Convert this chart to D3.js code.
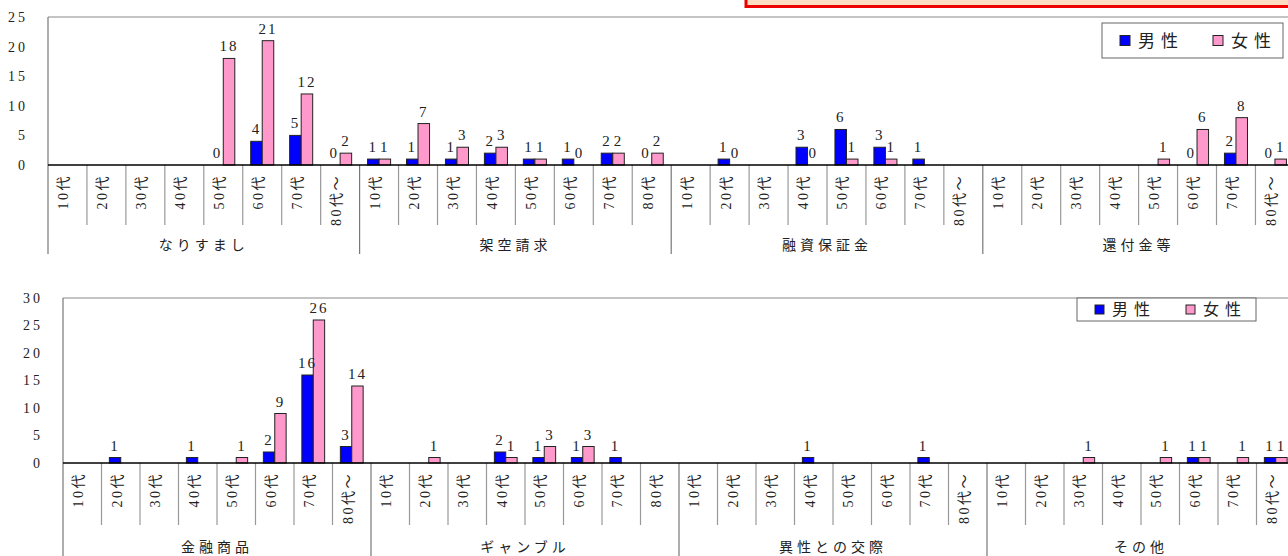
<!DOCTYPE html>
<html><head><meta charset="utf-8">
<script src="https://cdn.jsdelivr.net/npm/d3@7"></script>
<style>
html,body{margin:0;padding:0;background:#fff;}
svg{display:block;}
text{font-family:"Liberation Serif","Noto Sans CJK JP",serif;fill:#222;}
</style></head>
<body>
<svg id="c" width="1288" height="556"></svg>
<script>
// ---------- data ----------
const seriesNames = ["男性", "女性"];
const ageLabelsA = ["10代","20代","30代","40代","50代","60代","70代","80代～"];
const ageLabelsB = ["10代","20代","30代","40代","50代","60代","70代","80代"];

const topGroups = ["なりすまし", "架空請求", "融資保証金", "還付金等"];
const topAgeLabels = [ageLabelsA, ageLabelsB, ageLabelsA, ageLabelsA];
const topMale = [
  null,null,null,null,0,4,5,0,
  1,1,1,2,1,1,2,0,
  null,1,null,3,6,3,1,null,
  null,null,null,null,null,0,2,0
];
const topFemale = [
  null,null,null,null,18,21,12,2,
  1,7,3,3,1,0,2,2,
  null,0,null,0,1,1,null,null,
  null,null,null,null,1,6,8,1
];
const topYTicks = [0,5,10,15,20,25];

const botGroups = ["金融商品", "ギャンブル", "異性との交際", "その他"];
const botAgeLabels = [ageLabelsA, ageLabelsB, ageLabelsA, ageLabelsA];
const botMale = [
  null,1,null,1,null,2,16,3,
  null,null,null,2,1,1,1,null,
  null,null,null,1,null,null,1,null,
  null,null,null,null,null,1,null,1
];
const botFemale = [
  null,null,null,null,1,9,26,14,
  null,1,null,1,3,3,null,null,
  null,null,null,null,null,null,null,null,
  null,null,1,null,1,1,1,1
];
const botYTicks = [0,5,10,15,20,25,30];

const colors = {"男性":"#0000FF","女性":"#FF99CC"};

const svg = d3.select("#c");

// top decorative box (cropped)
svg.append("rect").attr("x",746).attr("y",-4).attr("width",560).attr("height",10.5)
  .attr("fill","#FCDDC2").attr("stroke","#EE0000").attr("stroke-width",3);

function drawChart(cfg){
  const {groups, ageLabels, male, female, yTicks, left, right, top, zero, ymax,
         tickBottom, groupBottom, groupLabelY, legend} = cfg;
  const g = svg.append("g");
  const cats = [];
  groups.forEach((gr,gi)=>ageLabels[gi].forEach((a,ai)=>cats.push({key:gr+"|"+ai, group:gr, gi, label:a})));
  const x = d3.scaleBand().domain(cats.map(d=>d.key)).range([left,right]).padding(0);
  const xs = d3.scaleBand().domain(seriesNames).range([0,x.bandwidth()]).paddingInner(0).paddingOuter(0.69);
  const y = d3.scaleLinear().domain([0,ymax]).range([zero,top]);

  // plot border (top + left)
  g.append("line").attr("x1",left).attr("x2",1300).attr("y1",top).attr("y2",top)
    .attr("stroke","#8a8a8a").attr("stroke-width",1.2);
  // category tick marks
  cats.forEach((c,i)=>{
    const xx = x(c.key);
    const isGroup = i % 8 === 0;
    g.append("line").attr("x1",xx).attr("x2",xx)
      .attr("y1", isGroup && i===0 ? top : zero)
      .attr("y2", isGroup ? groupBottom : tickBottom)
      .attr("stroke", isGroup ? "#777" : "#999").attr("stroke-width",1.2);
  });

  // y tick labels
  g.selectAll("text.yt").data(yTicks).join("text").attr("class","yt")
    .attr("x", left-20).attr("y", d=>y(d)).attr("dy","0.35em")
    .attr("text-anchor","end").attr("font-size",14).attr("letter-spacing",3)
    .text(d=>d);

  // bars
  const rows = [];
  cats.forEach((c,i)=>{
    rows.push({key:c.key, s:"男性", v:male[i]});
    rows.push({key:c.key, s:"女性", v:female[i]});
  });
  const valid = rows.filter(r=>r.v!==null);
  g.selectAll("rect.bar").data(valid).join("rect").attr("class","bar")
    .attr("x", d=>x(d.key)+xs(d.s)).attr("width", xs.bandwidth())
    .attr("y", d=>y(d.v)).attr("height", d=>Math.max(0, y(0)-y(d.v)))
    .attr("fill", d=>colors[d.s]).attr("stroke","#222").attr("stroke-width",1);

  // zero line
  g.append("line").attr("x1",left).attr("x2",1300).attr("y1",zero).attr("y2",zero)
    .attr("stroke","#000").attr("stroke-width",1.3);

  // value labels
  g.selectAll("text.vl").data(valid).join("text").attr("class","vl")
    .attr("x", d=>x(d.key)+xs(d.s)+xs.bandwidth()/2)
    .attr("y", d=>y(d.v)-7)
    .attr("text-anchor","middle").attr("font-size",15).attr("letter-spacing",2)
    .text(d=>d.v);

  // category labels (rotated)
  cats.forEach(c=>{
    const cx = x(c.key)+x.bandwidth()/2;
    g.append("text")
      .attr("transform",`translate(${cx-4},${zero+9}) rotate(-90)`)
      .attr("dy","0.35em").attr("text-anchor","end")
      .attr("font-size",14).attr("letter-spacing",2.5)
      .text(c.label);
  });

  // group labels
  groups.forEach((gr,gi)=>{
    const k0 = gr+"|0", k7 = gr+"|7";
    const cx = (x(k0) + x(k7)+x.bandwidth())/2;
    g.append("text").attr("x",cx).attr("y",groupLabelY).attr("dy","0.35em")
      .attr("text-anchor","middle").attr("font-size",14).attr("letter-spacing",4)
      .text(gr);
  });

  // legend
  const L = legend;
  const lg = svg.append("g");
  lg.append("rect").attr("x",L.x).attr("y",L.y).attr("width",L.w).attr("height",L.h)
    .attr("fill","#fff").attr("stroke","#666").attr("stroke-width",1);
  seriesNames.forEach((s,i)=>{
    const sx = L.x + L.pad + i*L.step;
    lg.append("rect").attr("x",sx).attr("y",L.y+L.h/2-L.sq/2).attr("width",L.sq).attr("height",L.sq)
      .attr("fill",colors[s]).attr("stroke","#222").attr("stroke-width",1);
    lg.append("text").attr("x",sx+L.sq+8).attr("y",L.y+L.h/2).attr("dy","0.36em")
      .attr("font-size",L.fs).attr("letter-spacing",L.ls).text(s);
  });
}

drawChart({groups:topGroups, ageLabels:topAgeLabels, male:topMale, female:topFemale, yTicks:topYTicks,
  left:48, right:48+32*38.95, top:17, zero:165, ymax:25,
  tickBottom:225, groupBottom:254, groupLabelY:245,
  legend:{x:1102,y:23,w:181,h:35,pad:18,step:93,sq:10,fs:17,ls:6}});

drawChart({groups:botGroups, ageLabels:botAgeLabels, male:botMale, female:botFemale, yTicks:botYTicks,
  left:63, right:63+32*38.5, top:298, zero:463, ymax:30,
  tickBottom:525, groupBottom:560, groupLabelY:547,
  legend:{x:1077,y:298,w:179,h:23,pad:18,step:91,sq:9,fs:16,ls:6}});
</script>
</body></html>
